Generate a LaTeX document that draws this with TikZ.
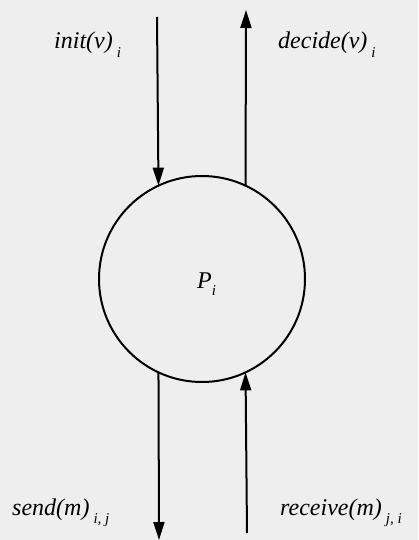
\documentclass[tikz,border=0pt]{standalone}
\usepackage{fontspec}
\setmainfont{Liberation Serif}
\usetikzlibrary{arrows.meta}
\definecolor{bg}{RGB}{238,238,238}
\newcommand{\lbl}[2]{\textit{#1}\,\raisebox{-0.36em}{\fontsize{15}{15}\selectfont\textit{#2}}}
\newcommand{\plbl}[2]{\textit{#1}\raisebox{-0.3em}{\fontsize{15}{15}\selectfont\textit{#2}}}
\begin{document}
\begin{tikzpicture}[x=1pt,y=-1pt,
  proc/.style={circle,draw,line width=2pt,minimum size=206pt,inner sep=0pt,outer sep=0pt},
  flow/.style={line width=2pt,-{Triangle[length=18pt,width=11pt]}},
  lab/.style={anchor=base west,inner sep=0pt,font=\fontsize{24}{24}\selectfont}]
\fill[bg] (0,0) rectangle (418,540);
\useasboundingbox (0,0) rectangle (418,540);
\node[proc] (P) at (202,279) {};
\node[lab] (pl) at (197,288) {\plbl{P}{i}};
\coordinate (a1) at (157,17);
\coordinate (a2) at (246,10);
\coordinate (b1) at (159,540);
\coordinate (b2) at (247,533);
\draw[flow] (a1) -- (P.115.6);
\draw[flow] (P.65) -- (a2);
\draw[flow] (P.245.6) -- (b1);
\draw[flow] (b2) -- (P.295.6);
\node[lab] (li) at (54,49) {\lbl{init(v)}{i}};
\node[lab] (ld) at (278,49) {\lbl{decide(v)}{i}};
\node[lab] (ls) at (12,515) {\lbl{send(m)}{i, j}};
\node[lab] (lr) at (280,515) {\lbl{receive(m)}{j, i}};
\end{tikzpicture}
\end{document}
